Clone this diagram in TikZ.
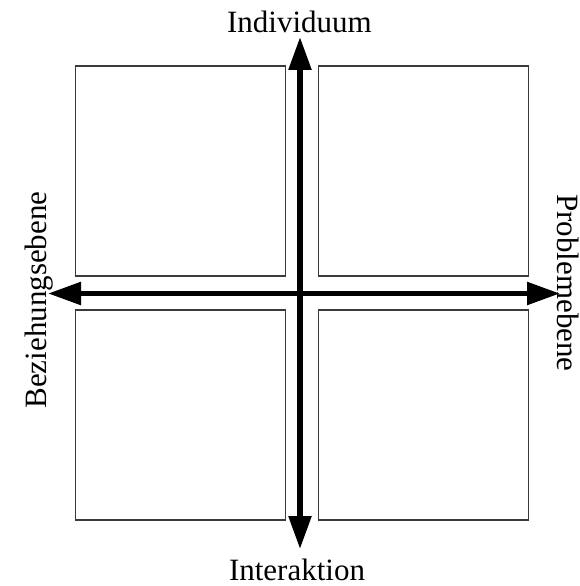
\documentclass[tikz,border=0pt]{standalone}
\usepackage{fontspec}
\setmainfont{Liberation Serif}
\usetikzlibrary{arrows.meta,positioning}
\definecolor{qdframe}{HTML}{3A3A3A}
\definecolor{qdink}{HTML}{000000}
\tikzset{
  quadBox/.style={draw=qdframe, line width=1.1pt, minimum width=210pt, minimum height=210pt, inner sep=0pt, outer sep=0pt},
  axisArrow/.style={{Triangle[length=33pt,width=22pt]}-{Triangle[length=33pt,width=22pt]}, line width=5.5pt, draw=qdink},
  axisLabel/.style={font=\fontsize{31}{36}\selectfont, inner sep=0pt, anchor=base}
}

\begin{document}
\begin{tikzpicture}[x=1pt, y=-1pt]
  \useasboundingbox (0,0) rectangle (580,586);
  \node[quadBox] (tl) at (180.5,171) {};
  \node[quadBox, right=33pt of tl] (tr) {};
  \node[quadBox, below=34pt of tl] (bl) {};
  \node[quadBox, right=33pt of bl] (br) {};

  \coordinate (north) at (300,37);
  \coordinate (south) at (300,549);
  \coordinate (west) at (48,293.5);
  \coordinate (east) at (560,293.5);
  \draw[axisArrow] (south) -- (north);
  \draw[axisArrow] (west) -- (east);

  \node[axisLabel] (indiv) at (299.5,33) {Individuum};
  \node[axisLabel] (inter) at (297,580) {Interaktion};
  \node[axisLabel, rotate=90] (bez) at (46,300) {Beziehungsebene};
  \node[axisLabel, rotate=-90] (prob) at (557,283) {Problemebene};
\end{tikzpicture}
\end{document}
